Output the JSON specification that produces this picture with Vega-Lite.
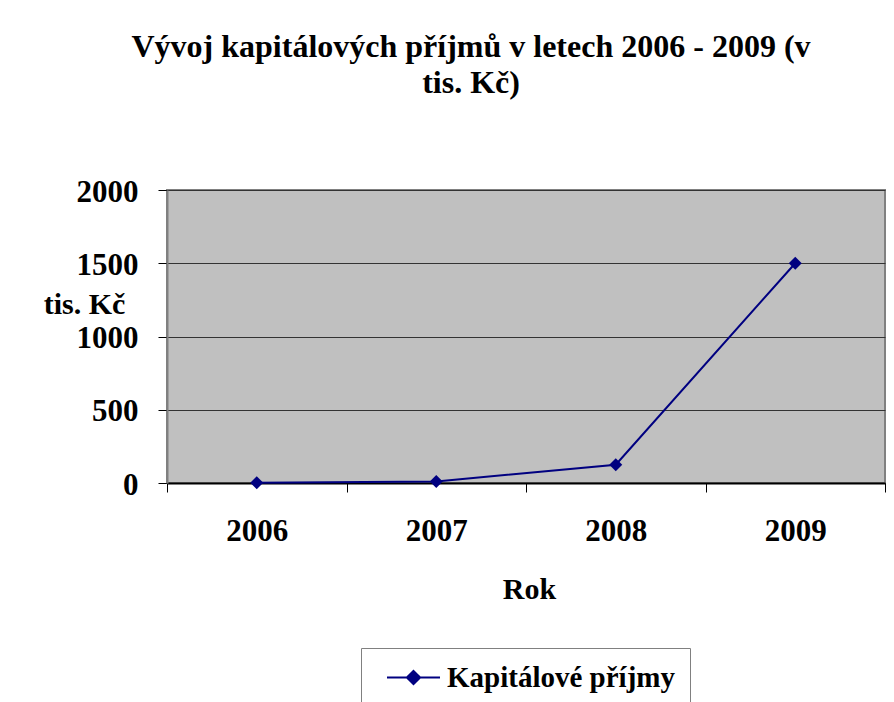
{
  "$schema": "https://vega.github.io/schema/vega-lite/v6.json",
  "width": 718,
  "height": 293,
  "autosize": {"type": "none"},
  "padding": {"left": 167, "top": 190, "right": 9, "bottom": 219},
  "background": "white",
  "title": {
    "text": ["Vývoj kapitálových příjmů v letech 2006 - 2009 (v", "tis. Kč)"],
    "font": "Liberation Serif",
    "fontSize": 32,
    "fontWeight": "bold",
    "lineHeight": 36,
    "color": "black",
    "anchor": "middle",
    "frame": "group",
    "dx": -55,
    "offset": 76
  },
  "data": {
    "values": [
      {"Rok": "2006", "Kc": 2},
      {"Rok": "2007", "Kc": 10},
      {"Rok": "2008", "Kc": 125},
      {"Rok": "2009", "Kc": 1500}
    ]
  },
  "mark": {
    "type": "line",
    "strokeWidth": 2,
    "point": {"shape": "diamond", "size": 170, "filled": true}
  },
  "encoding": {
    "x": {
      "field": "Rok",
      "type": "ordinal",
      "scale": {"type": "band", "paddingInner": 0, "paddingOuter": 0},
      "axis": {
        "title": "Rok",
        "labelAngle": 0,
        "tickBand": "extent",
        "grid": false,
        "labelFont": "Liberation Serif",
        "labelFontSize": 31,
        "labelFontWeight": "bold",
        "labelColor": "black",
        "labelBaseline": "alphabetic",
        "labelPadding": 48,
        "tickSize": 9,
        "tickColor": "#000",
        "domainColor": "#000",
        "domainWidth": 2,
        "titleFont": "Liberation Serif",
        "titleFontSize": 30,
        "titleFontWeight": "bold",
        "titleColor": "black",
        "titleBaseline": "alphabetic",
        "titleX": 362,
        "titleY": 115
      }
    },
    "y": {
      "field": "Kc",
      "type": "quantitative",
      "scale": {"domain": [0, 2000], "nice": false},
      "axis": {
        "values": [0, 500, 1000, 1500, 2000],
        "format": "d",
        "grid": true,
        "gridColor": "#333",
        "gridWidth": 1,
        "labelFont": "Liberation Serif",
        "labelFontSize": 31,
        "labelFontWeight": "bold",
        "labelColor": "black",
        "labelBaseline": "alphabetic",
        "labelOffset": 11,
        "labelPadding": 20,
        "labelFlush": false,
        "tickSize": 9,
        "tickColor": "#000",
        "domainColor": "#808080",
        "domainWidth": 2,
        "title": "tis. Kč",
        "titleAngle": 0,
        "titleFont": "Liberation Serif",
        "titleFontSize": 30,
        "titleFontWeight": "bold",
        "titleColor": "black",
        "titleAlign": "center",
        "titleBaseline": "alphabetic",
        "titleX": -83,
        "titleY": 123
      }
    },
    "color": {
      "datum": "Kapitálové příjmy",
      "type": "nominal",
      "scale": {"range": ["#000080"]},
      "legend": {
        "orient": "none",
        "legendX": 194,
        "legendY": 458,
        "title": ["\u00a0", "\u00a0", "\u00a0", "\u00a0"],
        "titleOrient": "right",
        "titleFontSize": 12,
        "titleLineHeight": 16,
        "titlePadding": 13,
        "padding": 2,
        "strokeColor": "#808080",
        "fillColor": "white",
        "labelFont": "Liberation Serif",
        "labelFontSize": 29,
        "labelFontWeight": "bold",
        "labelColor": "black",
        "labelLimit": 0,
        "labelOffset": 6,
        "symbolType": "M-1,0H1M0,-0.25L0.25,0L0,0.25L-0.25,0Z",
        "symbolSize": 2809,
        "symbolStrokeWidth": 2,
        "symbolOffset": 23,
        "encode": {
          "symbols": {
            "update": {
              "fill": {"value": "#000080"},
              "stroke": {"value": "#000080"},
              "strokeWidth": {"value": 2},
              "opacity": {"value": 1}
            }
          }
        }
      }
    }
  },
  "config": {
    "view": {"fill": "#C0C0C0", "stroke": "#808080", "strokeWidth": 2}
  }
}
